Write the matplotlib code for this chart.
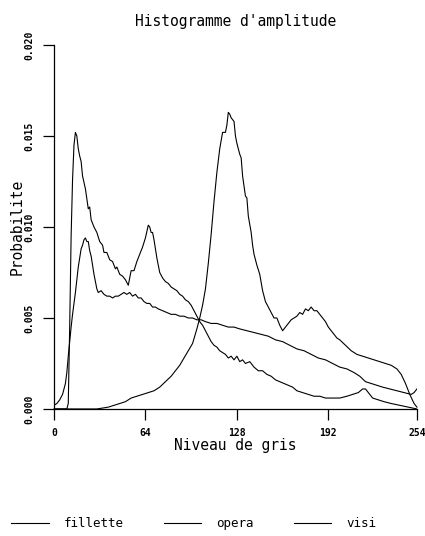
import matplotlib
matplotlib.use("Agg")
import matplotlib.pyplot as plt

# niveaux de gris et probabilites
fillette_x = [0, 9, 10, 11, 12, 13, 14, 15, 16, 17, 18, 19, 20, 22, 24, 25, 26, 28, 30, 32, 34, 35, 37,
              39, 41, 43, 44, 46, 48, 50, 52, 53, 54, 56, 58, 60, 62, 64, 66, 67, 68, 69, 70, 72, 73,
              74, 76, 78, 80, 82, 84, 86, 88, 90, 92, 94, 96, 98, 100, 102, 104, 106, 108, 110, 112,
              114, 116, 118, 120, 122, 124, 126, 128, 130, 132, 134, 137, 140, 143, 146, 149, 152,
              155, 158, 161, 164, 167, 170, 174, 178, 182, 186, 190, 195, 200, 205, 209, 213, 216,
              218, 220, 223, 227, 231, 236, 242, 248, 254]
fillette_y = [0, 0, 0.0003, 0.0045, 0.0095, 0.0126, 0.0145, 0.0152, 0.0150, 0.0143, 0.0139, 0.0136,
              0.0128, 0.0121, 0.0110, 0.0111, 0.0104, 0.0100, 0.0097, 0.0092, 0.0090, 0.0086, 0.0086,
              0.0082, 0.0081, 0.0077, 0.0078, 0.0074, 0.0073, 0.0071, 0.0068, 0.0072, 0.0076, 0.0076,
              0.0081, 0.0085, 0.0089, 0.0094, 0.0101, 0.0100, 0.0097, 0.0097, 0.0093, 0.0083, 0.0079,
              0.0075, 0.0072, 0.0070, 0.0069, 0.0067, 0.0066, 0.0065, 0.0063, 0.0062, 0.0060, 0.0059,
              0.0057, 0.0054, 0.0051, 0.0048, 0.0046, 0.0043, 0.0040, 0.0037, 0.0035, 0.0034, 0.0032,
              0.0031, 0.0030, 0.0028, 0.0029, 0.0027, 0.0029, 0.0026, 0.0027, 0.0025, 0.0026, 0.0023,
              0.0021, 0.0021, 0.0019, 0.0018, 0.0016, 0.0015, 0.0014, 0.0013, 0.0012, 0.0010, 0.0009,
              0.0008, 0.0007, 0.0007, 0.0006, 0.0006, 0.0006, 0.0007, 0.0008, 0.0009, 0.0011, 0.0011,
              0.0009, 0.0006, 0.0005, 0.0004, 0.0003, 0.0002, 0.0001, 0.0]

opera_x = [0, 2, 4, 6, 8, 9, 10, 11, 12, 13, 14, 15, 16, 17, 18, 19, 20, 21, 22, 23, 24, 25, 26, 27,
           28, 29, 30, 31, 33, 35, 37, 39, 41, 43, 45, 47, 49, 51, 53, 55, 57, 59, 61, 63, 65, 67, 69,
           71, 73, 76, 79, 82, 85, 88, 91, 94, 97, 100, 103, 106, 110, 114, 118, 122, 126, 130, 135,
           140, 145, 150, 155, 160, 165, 170, 175, 180, 185, 190, 195, 200, 205, 210, 214, 218, 222,
           226, 230, 235, 240, 245, 250, 252, 254]
opera_y = [0.0002, 0.0003, 0.0005, 0.0008, 0.0014, 0.0020, 0.0029, 0.0037, 0.0045, 0.0052, 0.0058,
           0.0064, 0.0071, 0.0078, 0.0083, 0.0088, 0.0090, 0.0093, 0.0094, 0.0092, 0.0092, 0.0087,
           0.0084, 0.0079, 0.0074, 0.0070, 0.0066, 0.0064, 0.0065, 0.0063, 0.0062, 0.0062, 0.0061,
           0.0062, 0.0062, 0.0063, 0.0064, 0.0063, 0.0064, 0.0062, 0.0063, 0.0061, 0.0061, 0.0059,
           0.0058, 0.0058, 0.0056, 0.0056, 0.0055, 0.0054, 0.0053, 0.0052, 0.0052, 0.0051, 0.0051,
           0.0050, 0.0050, 0.0049, 0.0049, 0.0048, 0.0047, 0.0047, 0.0046, 0.0045, 0.0045, 0.0044,
           0.0043, 0.0042, 0.0041, 0.0040, 0.0038, 0.0037, 0.0035, 0.0033, 0.0032, 0.0030, 0.0028,
           0.0027, 0.0025, 0.0023, 0.0022, 0.0020, 0.0018, 0.0015, 0.0014, 0.0013, 0.0012, 0.0011,
           0.0010, 0.0009, 0.0008, 0.0009, 0.0011]

visi_x = [0, 30, 34, 38, 42, 46, 50, 54, 58, 62, 66, 70, 74, 78, 82, 85, 88, 91, 94, 97, 100, 102, 104,
          106, 108, 110, 112, 114, 116, 118, 120, 121, 122, 123, 124, 126, 127, 128, 130, 131, 132, 134,
          135, 136, 138, 139, 140, 142, 144, 146, 148, 150, 152, 154, 156, 158, 160, 162, 164, 166,
          168, 170, 172, 174, 176, 178, 180, 182, 184, 186, 188, 190, 192, 194, 196, 198, 200, 204,
          208, 212, 216, 220, 224, 228, 232, 236, 240, 243, 246, 249, 252, 254]
visi_y = [0, 0, 0.00005, 0.0001, 0.0002, 0.0003, 0.0004, 0.0006, 0.0007, 0.0008, 0.0009, 0.0010,
          0.0012, 0.0015, 0.0018, 0.0021, 0.0024, 0.0028, 0.0032, 0.0036, 0.0044, 0.0050, 0.0057,
          0.0066, 0.0080, 0.0096, 0.0114, 0.0130, 0.0143, 0.0152, 0.0152, 0.0156, 0.0163, 0.0162,
          0.0160, 0.0158, 0.0150, 0.0146, 0.0140, 0.0138, 0.0128, 0.0117, 0.0116, 0.0106, 0.0097,
          0.0090, 0.0085, 0.0079, 0.0074, 0.0065, 0.0059, 0.0056, 0.0053, 0.0050, 0.0050, 0.0046,
          0.0043, 0.0045, 0.0047, 0.0049, 0.0050, 0.0051, 0.0053, 0.0052, 0.0055, 0.0054, 0.0056,
          0.0054, 0.0054, 0.0052, 0.0050, 0.0048, 0.0045, 0.0043, 0.0041, 0.0039, 0.0038, 0.0035,
          0.0032, 0.0030, 0.0029, 0.0028, 0.0027, 0.0026, 0.0025, 0.0024, 0.0022, 0.0019, 0.0014,
          0.0008, 0.0003, 0.0001]

x_ticks = [0, 64, 128, 192, 254]
y_ticks = [0.0, 0.005, 0.010, 0.015, 0.020]

plt.rcParams['font.family'] = ['DejaVu Sans Mono']

fig = plt.figure(figsize=(4.25, 5.36), dpi=100)
ax = fig.add_axes([0.127, 0.237, 0.854, 0.679])

ax.plot(fillette_x, fillette_y, color='black', lw=0.8, label='fillette')
ax.plot(opera_x, opera_y, color='black', lw=0.8, label='opera')
ax.plot(visi_x, visi_y, color='black', lw=0.8, label='visi', clip_on=False)

ax.set_xlim(0, 254)
ax.set_ylim(0, 0.020)
ax.spines['top'].set_visible(False)
ax.spines['right'].set_visible(False)
ax.spines['left'].set_linewidth(0.9)
ax.spines['bottom'].set_linewidth(0.9)

ax.set_xticks(x_ticks)
ax.set_xticklabels([str(v) for v in x_ticks], fontsize=7, fontweight='bold')
ax.set_yticks(y_ticks)
ax.set_yticklabels(['%.3f' % v for v in y_ticks], fontsize=7, fontweight='bold',
                   rotation=90, va='center')
ax.tick_params(axis='both', direction='out', length=8, width=0.9, pad=6)

ax.set_title("Histogramme d'amplitude", fontsize=10.5, pad=14)
ax.set_xlabel("Niveau de gris", fontsize=10.5, labelpad=0)
ax.set_ylabel("Probabilite", fontsize=10.5, labelpad=0)

fig.legend(loc='lower left', bbox_to_anchor=(0.0, -0.01), ncol=3, frameon=False,
           fontsize=9, handlelength=3.0, handletextpad=1.2, columnspacing=3.2)

fig.savefig('out.png', dpi=100)
